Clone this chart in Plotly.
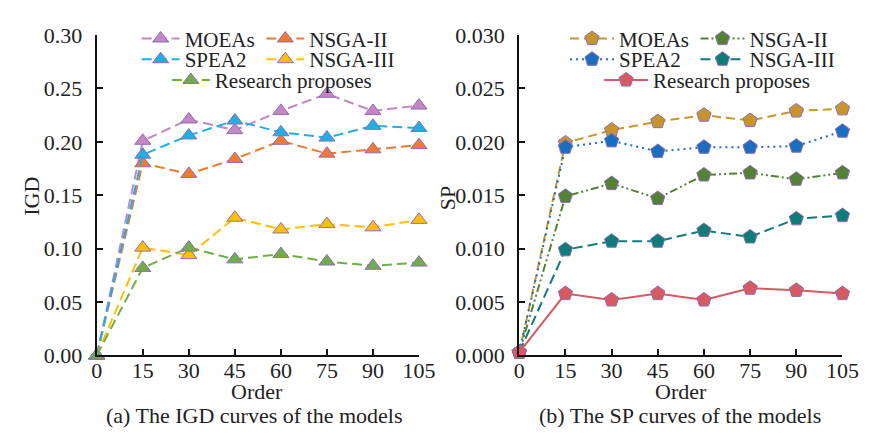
import plotly.graph_objects as go

order = [0, 15, 30, 45, 60, 75, 90, 105]
x_ticks = [0, 15, 30, 45, 60, 75, 90, 105]

series_names = ["MOEAs", "NSGA-II", "SPEA2", "NSGA-III", "Research proposes"]

igd_moeas = [0.0, 0.201, 0.221, 0.211, 0.229, 0.245, 0.229, 0.234]
igd_nsga2 = [0.0, 0.180, 0.170, 0.184, 0.201, 0.189, 0.193, 0.197]
igd_spea2 = [0.0, 0.188, 0.206, 0.220, 0.209, 0.204, 0.215, 0.213]
igd_nsga3 = [0.0, 0.101, 0.094, 0.129, 0.118, 0.123, 0.120, 0.127]
igd_research = [0.0, 0.082, 0.101, 0.090, 0.095, 0.088, 0.084, 0.087]

sp_moeas = [0.0003, 0.0199, 0.0211, 0.0219, 0.0225, 0.0220, 0.0229, 0.0231]
sp_nsga2 = [0.0003, 0.0149, 0.0161, 0.0147, 0.0169, 0.0171, 0.0165, 0.0171]
sp_spea2 = [0.0003, 0.0195, 0.0201, 0.0191, 0.0195, 0.0195, 0.0196, 0.0210]
sp_nsga3 = [0.0003, 0.0099, 0.0107, 0.0107, 0.0117, 0.0111, 0.0128, 0.0131]
sp_research = [0.0003, 0.0058, 0.0052, 0.0058, 0.0052, 0.0063, 0.0061, 0.0058]

W, H = 869, 434
FONT = "Liberation Serif"
TXT = "#222222"
EDGE = "#8E6CB8"
FS = 22
LFS = 21

fig = go.Figure()

left_colors = ["#C487C4", "#EE7B30", "#22AEE2", "#FFBF00", "#6FAD46"]
left_data = [igd_moeas, igd_nsga2, igd_spea2, igd_nsga3, igd_research]
left_dash = ["10px,5px"] * 5

right_colors = ["#C6962C", "#548235", "#1A6EC0", "#0E7C78", "#D75A62"]
right_data = [sp_moeas, sp_nsga2, sp_spea2, sp_nsga3, sp_research]
right_dash = ["9px,5px", "8px,3px,2px,3px,2px,3px", "2px,4px", "10px,5px", "solid"]

# legend slot positions (px): symbol start x, row center y
left_slots = [(126, 20), (254, 20), (126, 42), (254, 42), (157, 64)]
right_slots = [(566, 20), (700, 20), (566, 42), (700, 42), (601, 64)]

legend_names = ["legend"] + [f"legend{i}" for i in range(2, 11)]
legends = {}
k = 0
for i, name in enumerate(series_names):
    lname = legend_names[k]
    fig.add_trace(go.Scatter(
        x=order, y=left_data[i], name=name, mode="lines+markers", showlegend=True,
        line=dict(color=left_colors[i], width=2, dash=left_dash[i]),
        marker=dict(symbol="triangle-up", size=14, color=left_colors[i],
                    line=dict(color=EDGE, width=1)),
        cliponaxis=False, legend=lname, xaxis="x", yaxis="y"))
    sx, sy = left_slots[i]
    legends[lname] = dict(x=sx / W, y=1 - sy / H, xanchor="left", yanchor="middle",
                          bgcolor="rgba(0,0,0,0)", font=dict(family=FONT, size=LFS, color=TXT),
                          itemwidth=38, tracegroupgap=0, visible=True)
    k += 1

for i, name in enumerate(series_names):
    lname = legend_names[k]
    fig.add_trace(go.Scatter(
        x=order, y=right_data[i], name=name, mode="lines+markers", showlegend=True,
        line=dict(color=right_colors[i], width=2, dash=right_dash[i]),
        marker=dict(symbol="pentagon", size=15, color=right_colors[i],
                    line=dict(color=EDGE, width=1)),
        cliponaxis=False, legend=lname, xaxis="x2", yaxis="y2"))
    sx, sy = right_slots[i]
    legends[lname] = dict(x=sx / W, y=1 - sy / H, xanchor="left", yanchor="middle",
                          bgcolor="rgba(0,0,0,0)", font=dict(family=FONT, size=LFS, color=TXT),
                          itemwidth=44, tracegroupgap=0, visible=True)
    k += 1

ydom = [(H - 356) / H, (H - 16) / H]
axis_common = dict(showline=True, linecolor="#111", linewidth=2, ticks="inside",
                   ticklen=6, tickwidth=2, tickcolor="#111", showgrid=False, zeroline=False,
                   tickfont=dict(family=FONT, size=FS, color=TXT))

fig.update_layout(
    width=W, height=H, margin=dict(l=0, r=0, t=0, b=0),
    paper_bgcolor="white", plot_bgcolor="white", showlegend=True,
    font=dict(family=FONT, size=FS, color=TXT),
    xaxis=dict(domain=[85 / W, 416 / W], range=[0, 105], tickvals=x_ticks,
               anchor="y", ticklabelstandoff=-6, **axis_common),
    yaxis=dict(domain=ydom, range=[0, 0.30], dtick=0.05, tickformat=".2f",
               anchor="x", ticklabelstandoff=8, **axis_common),
    xaxis2=dict(domain=[519 / W, 851 / W], range=[0, 105], tickvals=x_ticks,
                anchor="y2", ticklabelstandoff=-6, **axis_common),
    yaxis2=dict(domain=ydom, range=[0, 0.030], dtick=0.005, tickformat=".3f",
                anchor="x2", ticklabelstandoff=8, **axis_common),
)
fig.update_layout(legends)

ann_font = dict(family=FONT, size=FS, color=TXT)
annotations = [
    dict(text="IGD", x=18 / W, y=1 - 187 / H, textangle=-90),
    dict(text="SP", x=445 / W, y=1 - 189 / H, textangle=-90),
    dict(text="Order", x=250 / W, y=1 - 394 / H),
    dict(text="Order", x=685 / W, y=1 - 394 / H),
    dict(text="(a) The IGD curves of the models", x=247 / W, y=1 - 420 / H),
    dict(text="(b) The SP curves of the models", x=684 / W, y=1 - 420 / H),
]
for a in annotations:
    fig.add_annotation(xref="paper", yref="paper", showarrow=False,
                       xanchor="center", yanchor="middle", font=ann_font, **a)

fig.write_html("out.html")
